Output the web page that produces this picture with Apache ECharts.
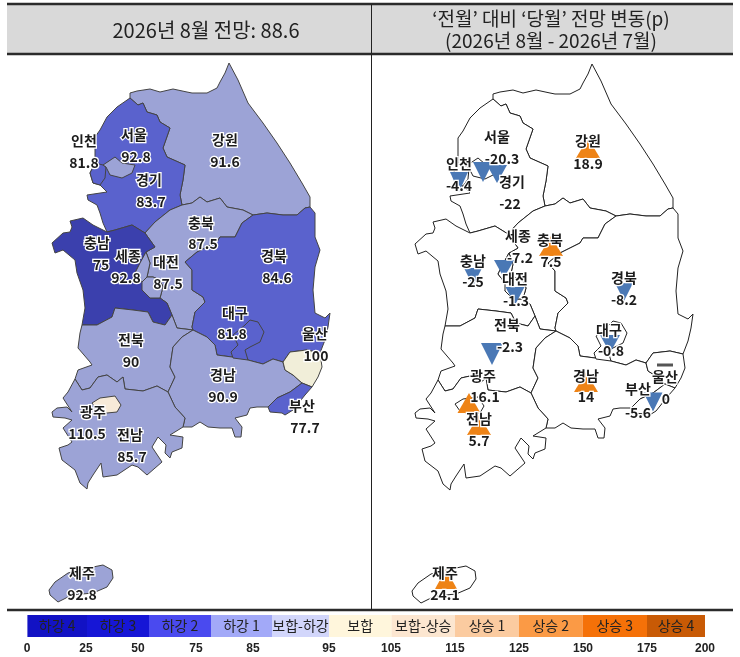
<!DOCTYPE html>
<html><head><meta charset="utf-8">
<style>html,body{margin:0;padding:0;background:#fff}#c{width:740px;height:657px}</style>
<script src="https://cdn.jsdelivr.net/npm/echarts@6/dist/echarts.min.js"></script>
</head><body><div id="c"></div>
<script>
// ---- data ----
const regions  = ['인천','서울','강원','경기','충북','충남','세종','대전','경북','대구','울산','전북','경남','부산','광주','전남','제주'];
const forecast = [81.8,92.8,91.6,83.7,87.5,75,92.8,87.5,84.6,81.8,100,90,90.9,77.7,110.5,85.7,92.8];
const change   = [-4.4,-20.3,18.9,-22,7.5,-25,-7.2,-1.3,-8.2,-0.8,0,-2.3,14,-5.6,16.1,5.7,24.1];
const legendNames = ['하강 4','하강 3','하강 2','하강 1','보합-하강','보합','보합-상승','상승 1','상승 2','상승 3','상승 4'];
const legendTicks = ['0','25','50','75','85','95','105','115','125','150','175','200'];
const headline = 88.6;

// ---- region outlines (screen-pixel trace of the base map) ----
const r = a => a.slice().reverse();
const gwTop=[[130,98],[130,93],[137,91],[150,89],[160,92],[173,89],[187,92],[192,93],[207,93],[217,88],[220,82],[225,73],[229,63]];
const gwCoast=[[229,63],[238,80],[248,103],[263,123],[277,143],[290,163],[302,183],[310,197],[310,207]];
const gwGb=[[253,215],[267,213],[283,215],[297,215],[305,208],[310,207]];
const gwCb=[[182,205],[192,203],[200,197],[207,202],[220,198],[227,207],[243,210],[253,215]];
const gwGg=[[130,98],[138,105],[143,103],[147,112],[157,115],[160,122],[170,128],[163,148],[167,157],[185,165],[183,180],[180,195],[182,205]];
const ggCb=[[182,205],[170,210],[155,222],[145,233]];
const ggCn=[[107,232],[115,230],[132,225],[145,233]];
const ggWest=[[130,98],[117,107],[107,117],[100,130],[95,137],[95,163],[90,173],[93,183],[100,185],[107,192],[87,195],[88,200],[97,205],[100,213],[103,223],[107,232]];
const gbCoast=[[310,207],[315,213],[315,237],[320,250],[315,267],[313,290],[315,313],[325,318],[330,313],[328,327],[325,340],[320,353]];
const gbUs=[[283,362],[290,352],[307,350],[320,353]];
const gbGn=[[193,330],[207,337],[215,345],[217,355],[232,357],[240,353],[248,360],[263,364],[273,359],[283,362]];
const gbCb=[[253,215],[242,223],[235,237],[220,237],[217,242],[197,252],[185,262],[192,270],[192,290],[203,297],[205,302],[195,312],[192,327],[193,330]];
const usCoast=[[320,353],[322,367],[318,377],[312,387]];
const usGn=[[283,362],[285,370],[293,375],[302,383]];
const usBs=[[302,383],[307,385],[312,387]];
const bsGn=[[302,383],[290,392],[277,398],[268,407]];
const bsCoast=[[312,387],[305,395],[293,410],[285,415],[282,413],[270,412],[268,407]];
const gnCoast=[[268,407],[257,407],[250,408],[247,415],[235,418],[242,427],[241,437],[235,437],[232,428],[220,428],[208,427],[200,422],[192,427],[183,427]];
const gnJn=[[168,392],[175,407],[185,418],[183,427]];
const gnJb=[[193,330],[182,337],[173,347],[170,367],[175,377],[168,392]];
const jbJn=[[75,379],[82,390],[90,388],[98,377],[107,375],[117,382],[123,377],[125,389],[143,391],[157,386],[168,392]];
const jbWest=[[82,325],[80,333],[78,348],[90,362],[92,365],[78,370],[75,379]];
const jbCn=[[82,325],[97,325],[112,317],[115,308],[133,310],[148,312],[153,322],[165,325],[172,315]];
const jbCb=[[172,315],[177,328],[193,330]];
const jnCoast=[[183,427],[170,435],[183,437],[182,448],[172,452],[170,458],[165,453],[166,445],[158,437],[152,447],[162,462],[147,475],[138,467],[132,465],[117,475],[103,477],[101,463],[93,475],[88,483],[87,489],[80,483],[75,470],[62,460],[59,448],[68,445],[72,442],[63,428],[72,420],[65,418],[53,417],[52,412],[57,408],[67,407],[72,412],[63,398],[68,392],[75,379]];
const cnCb=[[145,233],[155,247],[146,252]];
const sjCb=[[146,252],[150,263],[147,277]];
const sjCn=[[146,252],[140,263],[135,273],[142,282],[147,277]];
const djCb=[[147,277],[153,277],[160,280],[163,287],[160,298]];
const djCn=[[142,282],[142,290],[150,298],[160,298]];
const cnTail=[[160,298],[167,303],[172,315]];
const cnWest=[[82,325],[85,308],[83,290],[77,273],[75,260],[63,250],[55,253],[52,243],[63,233],[70,232],[72,227],[70,221],[83,218],[93,225],[107,232]];
const outlines={
 '강원':[...gwTop,...gwCoast,...r(gwGb),...r(gwCb),...r(gwGg)],
 '경기':[...ggWest,...ggCn,...r(ggCb),...r(gwGg)],
 '충북':[...cnCb,...sjCb,...djCb,...cnTail,...jbCb,...r(gbCb),...r(gwCb),...ggCb],
 '경북':[...gwGb,...gbCoast,...r(gbUs),...r(gbGn),...r(gbCb)],
 '충남':[...cnWest,...ggCn,...cnCb,...sjCn,...djCn.slice(1),...cnTail,...r(jbCn)],
 '전북':[...jbCn,...jbCb,...gnJb,...r(jbJn),...r(jbWest)],
 '경남':[...gbGn,...usGn,...bsGn,...gnCoast,...r(gnJn),...r(gnJb)],
 '전남':[...jbJn,...gnJn,...jnCoast],
 '세종':[...sjCb,...r(sjCn)],
 '대전':[...djCb,...r(djCn),[147,277]],
 '대구':[[245,325],[250,320],[258,322],[264,332],[260,342],[250,347],[245,350],[248,360],[233,358],[231,352],[238,345],[233,335]],
 '인천':[[95,163],[103,165],[106,167],[105,178],[100,185],[93,183],[90,173]],
 '서울':[[103,165],[115,157],[122,163],[135,165],[132,173],[122,178],[110,175],[106,167]],
 '울산':[...gbUs,...usCoast,...r(usBs),...r(usGn)],
 '부산':[...usBs,...bsCoast,...r(bsGn)],
 '광주':[[92,403],[100,398],[115,396],[121,405],[117,412],[107,413],[97,410]],
 '제주':[[49,590],[55,582],[68,573],[88,568],[103,565],[112,570],[113,578],[107,587],[93,593],[72,595],[58,602],[50,595]]
};
const order=['강원','경기','충북','경북','충남','전북','경남','전남','세종','대전','대구','인천','서울','울산','부산','광주','제주'];
const H=657;
const flip=p=>[p[0],H-p[1]];
const geoJson={type:'FeatureCollection',features:order.map(n=>({type:'Feature',properties:{name:n},
  geometry:{type:'Polygon',coordinates:[outlines[n].concat([outlines[n][0]]).map(flip)]}}))};
echarts.registerMap('kr',geoJson);

// ---- label and marker anchors, screen pixels ----
const leftAnchors={'인천':[[84,141],[84,163]],'서울':[[134,135],[136,157]],'강원':[[225,140],[225,162]],'경기':[[149,180],[151,202]],'충북':[[201,223],[203,244]],'충남':[[97,243],[101,265]],'세종':[[128,256],[126,278]],'대전':[[166,262],[168,284]],'경북':[[274,256],[277,278]],'대구':[[235,313],[232,334]],'울산':[[315,334],[316,356]],'전북':[[131,340],[131,362]],'경남':[[223,375],[223,397]],'부산':[[302,406],[305,428]],'광주':[[93,412],[87,434]],'전남':[[130,435],[132,457]],'제주':[[82,573],[82,595]]};
const rightAnchors={'서울':[[497,137],[502,159]],'강원':[[588,141],[588,164]],'인천':[[459,164],[459,186]],'경기':[[512,182],[510,204]],'세종':[[518,236],[520,258]],'충북':[[550,240],[551,262]],'충남':[[473,261],[473,282]],'대전':[[515,279],[516,301]],'경북':[[624,278],[624,300]],'대구':[[609,330],[611,351]],'전북':[[507,325],[510,347]],'울산':[[665,377],[666,399]],'부산':[[638,389],[638,413]],'경남':[[586,376],[586,397]],'광주':[[483,376],[485,397]],'전남':[[479,419],[479,441]],'제주':[[445,573],[445,595]]};
const markerAt={'서울':[483,172,20,20],'강원':[588,148,24,20],'인천':[459,182,18,20],'경기':[497,174,20,18],'세종':[504,269,20,18],'충북':[551,246,24,20],'충남':[473,277,18,18],'대전':[515,296,19,18],'경북':[624,292,18,18],'대구':[610,344,20,18],'전북':[492,354,22,22],'울산':[665,365,16,3],'부산':[653,402,19,19],'경남':[586,382,24,20],'광주':[469,403,23,20],'전남':[479,425,24,20],'제주':[446,579,22,20]};

const BLUE='#4a78b5',ORANGE='#ee8316',DASH='#555';
const labelSeries=(anchors,vals)=>({
  type:'scatter',coordinateSystem:'geo',geoIndex:0,silent:true,symbolSize:1,z:10,
  itemStyle:{color:'transparent',opacity:1},
  label:{show:true,position:'inside',formatter:'{b}',fontFamily:'"Noto Sans CJK KR"',fontSize:14,fontWeight:'bold',color:'#1c1c1c',textBorderColor:'#fff',textBorderWidth:2.5},
  data:regions.flatMap((n,i)=>[{name:n,value:flip(anchors[n][0])},{name:String(vals[i]),value:flip(anchors[n][1])}])
});
const markers={
  type:'scatter',coordinateSystem:'geo',geoIndex:0,silent:true,z:5,
  data:regions.map((n,i)=>{
    const m=markerAt[n],c=change[i];
    return {name:n,value:flip(m),symbol:c===0?'rect':'triangle',symbolSize:[m[2],m[3]],symbolRotate:c<0?180:0,
      itemStyle:{opacity:1,color:c===0?DASH:(c<0?BLUE:ORANGE)}};
  })
};

// ---- header and legend ----
const edges=[27.4,87,149,211,272,329,391.5,455,519,582.5,647,705];
const legendColors=['#1212c4','#1616d6','#4a4aef','#a2a9f8','#d2d6fb','#fff6dc','#fce6d0','#fbcba0','#fb9a45','#f57108','#c85a05'];
const rules=[[7,733,4,2.4],[7,733,54,2.4],[7,733,610,2.4]];
const graphic=[
 {type:'rect',shape:{x:7,y:4,width:726,height:50},style:{fill:'#d9d9d9'},z:-1},
 ...rules.map(a=>({type:'line',shape:{x1:a[0],x2:a[1],y1:a[2],y2:a[2]},style:{stroke:'#2b2b2b',lineWidth:a[3]}})),
 {type:'line',shape:{x1:371.5,x2:371.5,y1:4,y2:610},style:{stroke:'#222',lineWidth:1}},
 {type:'text',style:{x:206,y:30,text:`2026년 8월 전망: ${headline}`,align:'center',verticalAlign:'middle',font:'20px "Noto Sans CJK KR"',fill:'#222'}},
 {type:'text',style:{x:551,y:19,text:'‘전월’ 대비 ‘당월’ 전망 변동(p)',align:'center',verticalAlign:'middle',font:'19px "Noto Sans CJK KR"',fill:'#222'}},
 {type:'text',style:{x:551,y:41,text:'(2026년 8월 - 2026년 7월)',align:'center',verticalAlign:'middle',font:'19px "Noto Sans CJK KR"',fill:'#222'}},
 ...legendNames.flatMap((t,i)=>[
   {type:'rect',shape:{x:edges[i],y:615,width:edges[i+1]-edges[i],height:22},style:{fill:legendColors[i]}},
   {type:'text',z:2,style:{x:(edges[i]+edges[i+1])/2,y:626,text:t,align:'center',verticalAlign:'middle',font:'14px "Noto Sans CJK KR"',fill:'#222'}}
 ]),
 ...legendTicks.map((t,i)=>({type:'text',style:{x:[27,86,138,196,253,329,391,455,519,583,647,705][i],y:649,text:t,align:'center',verticalAlign:'middle',font:'bold 12px "Liberation Sans"',fill:'#222'}}))
];

const box={boundingCoords:[[0,H],[740,0]],aspectScale:1,width:740,height:657,silent:true,roam:false};
const chart=echarts.init(document.getElementById('c'),null,{renderer:'canvas',width:740,height:657});
chart.setOption({
  animation:false,
  backgroundColor:'#fff',
  visualMap:{show:false,type:'piecewise',seriesIndex:0,pieces:[
    {min:50,max:75,color:'#3b40ad'},{gt:75,lte:85,color:'#5a62cd'},{gt:85,lte:95,color:'#9ca3d6'},
    {gt:95,lte:105,color:'#f1eed9'},{gt:105,lte:115,color:'#f7ead8'}]},
  geo:[
    {map:'kr',...box,left:0,top:0,itemStyle:{areaColor:'#9ca3d6',borderColor:'#444',borderWidth:1},label:{show:false}},
    {map:'kr',...box,left:363,top:1,itemStyle:{areaColor:'#fff',borderColor:'#222',borderWidth:1},label:{show:false}}
  ],
  series:[
    {type:'map',geoIndex:0,silent:true,data:regions.map((n,i)=>({name:n,value:forecast[i]}))},
    markers,
    labelSeries(leftAnchors,forecast),
    labelSeries(rightAnchors,change)
  ],
  graphic:{elements:graphic}
});
</script></body></html>
